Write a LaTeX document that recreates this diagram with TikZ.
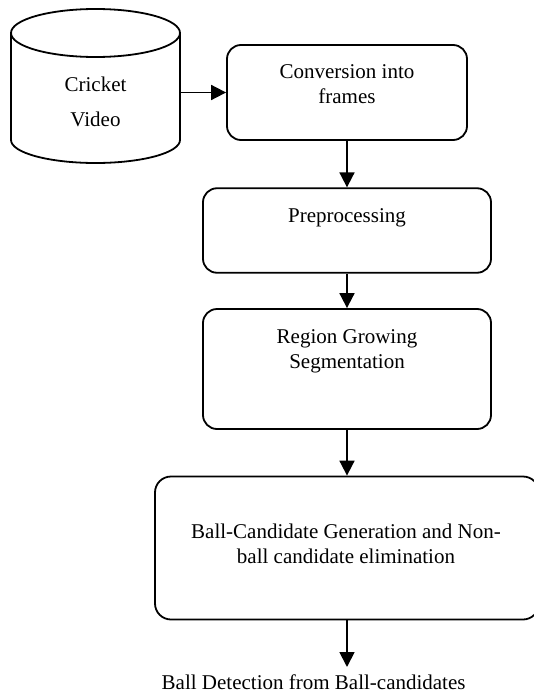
\documentclass[tikz,border=0pt]{standalone}
\usepackage{fontspec}
\setmainfont{Liberation Serif}
\usetikzlibrary{arrows.meta}
\begin{document}
\begin{tikzpicture}[x=1pt,y=-1pt,
  box/.style={draw, line width=1.8pt, rounded corners=14pt, inner sep=0pt},
  lbl/.style={font=\fontsize{21}{25}\selectfont, align=center, inner sep=0pt},
  arr/.style={line width=1.8pt, -{Triangle[length=15pt,width=15pt]}},
  edge/.style={line width=1.8pt}]
\useasboundingbox (0,0) rectangle (534,693);
\clip (0,0) rectangle (534,693);
% cylinder
\draw[edge] (11,33) -- (11,140) arc[start angle=180,end angle=0,x radius=84.5,y radius=23] -- (180,33);
\draw[edge] (95.5,33) ellipse[x radius=84.5, y radius=24];
\node[inner sep=0pt, minimum width=169pt, minimum height=155pt] (cyl) at (95.5,85.5) {};
\node[lbl, anchor=base] (c1) at (95.5,126.7) {Cricket\\[10pt]Video};
% boxes
\node[box, minimum width=240pt, minimum height=95pt] (b1) at (347,92.5) {};
\node[box, minimum width=288pt, minimum height=84.5pt] (b2) at (347,230.5) {};
\node[box, minimum width=288pt, minimum height=120pt] (b3) at (347,369) {};
\node[box, minimum width=384pt, minimum height=143pt, rounded corners=16pt] (b4) at (347,548) {};
% labels
\node[lbl, anchor=base] (t1) at (347,103) {Conversion into\\frames};
\node[lbl, anchor=base] (t2) at (347,222.7) {Preprocessing};
\node[lbl, anchor=base] (t3) at (347,368.5) {Region Growing\\Segmentation};
\node[lbl, anchor=base] (t4) at (346,563) {Ball-Candidate Generation and Non-\\ball candidate elimination};
\node[lbl, anchor=base west] (out) at (161.5,689) {Ball Detection from Ball-candidates};
\coordinate (outtip) at (347,667);
% arrows
\draw[arr] (cyl.east |- b1.west) -- (b1.west);
\draw[arr] (b1.south) -- (b2.north);
\draw[arr] (b2.south) -- (b3.north);
\draw[arr] (b3.south) -- (b4.north);
\draw[arr] (b4.south) -- (outtip);
\end{tikzpicture}
\end{document}
